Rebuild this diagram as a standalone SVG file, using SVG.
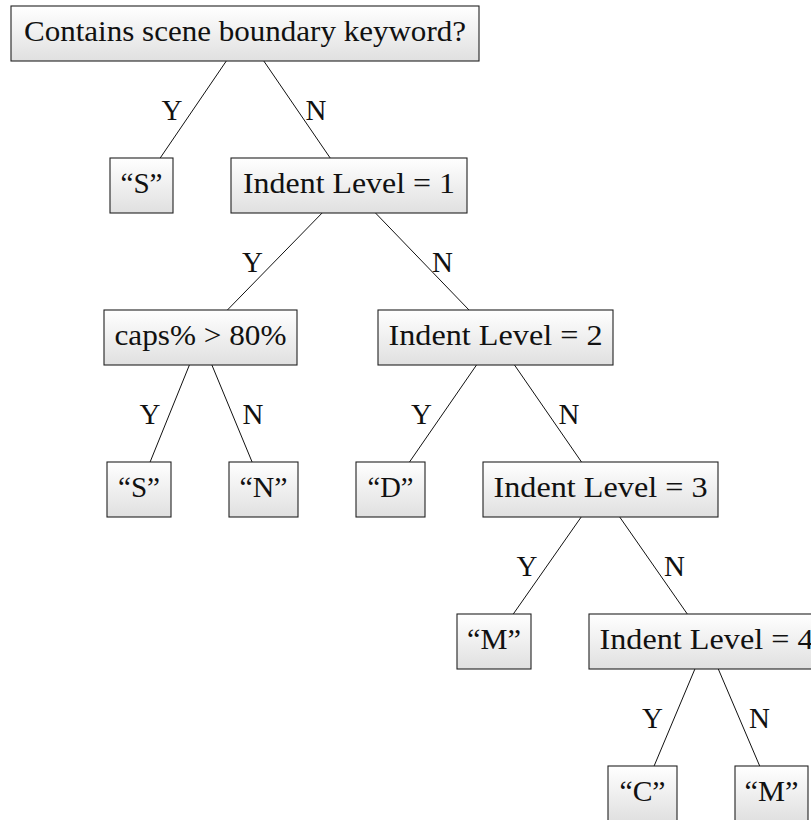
<svg xmlns="http://www.w3.org/2000/svg" width="811" height="820" viewBox="0 0 811 820">
<defs>
<linearGradient id="boxfill" x1="0" y1="0" x2="0" y2="1">
<stop offset="0" stop-color="#ffffff"/>
<stop offset="1" stop-color="#e0e0e0"/>
</linearGradient>
</defs>
<style>
.box{fill:url(#boxfill);stroke:#222;stroke-width:1.1}
.t{font-family:"Liberation Serif","DejaVu Serif",serif;font-size:29px;fill:#111;text-anchor:middle}
.edge{stroke:#111;stroke-width:1;fill:none}
.lbl{font-family:"Liberation Serif","DejaVu Serif",serif;font-size:29px;fill:#111;text-anchor:middle}
</style>
<rect x="0" y="0" width="811" height="820" fill="#ffffff"/>
<g id="connectors">
<line class="edge" x1="226.3" y1="61" x2="160.2" y2="158"/>
<line class="edge" x1="263.8" y1="61" x2="330.2" y2="158"/>
<line class="edge" x1="322.1" y1="213" x2="227.4" y2="310"/>
<line class="edge" x1="375.5" y1="213" x2="469" y2="310"/>
<line class="edge" x1="189.4" y1="365" x2="150.1" y2="462"/>
<line class="edge" x1="211.9" y1="365" x2="252.1" y2="462"/>
<line class="edge" x1="476.5" y1="365" x2="409.5" y2="462"/>
<line class="edge" x1="514.5" y1="365" x2="581.5" y2="462"/>
<line class="edge" x1="581.2" y1="517" x2="513.3" y2="614"/>
<line class="edge" x1="619.7" y1="517" x2="687.3" y2="614"/>
<line class="edge" x1="694.9" y1="669" x2="654.1" y2="766"/>
<line class="edge" x1="718.3" y1="669" x2="759.7" y2="766"/>
<text class="lbl" x="172" y="120">Y</text>
<text class="lbl" x="316" y="120">N</text>
<text class="lbl" x="252.5" y="272">Y</text>
<text class="lbl" x="442.5" y="272">N</text>
<text class="lbl" x="150" y="424">Y</text>
<text class="lbl" x="253" y="424">N</text>
<text class="lbl" x="421.5" y="424">Y</text>
<text class="lbl" x="569" y="424">N</text>
<text class="lbl" x="527" y="576">Y</text>
<text class="lbl" x="674.5" y="576">N</text>
<text class="lbl" x="652.5" y="728">Y</text>
<text class="lbl" x="759.5" y="728">N</text>
</g>
<g id="n-root">
<rect class="box" x="11" y="6" width="468" height="55"/>
<text class="t" x="245" y="40.5" textLength="442" lengthAdjust="spacingAndGlyphs">Contains scene boundary keyword?</text>
</g>
<g id="n-s1">
<rect class="box" x="110" y="158" width="63" height="55"/>
<text class="t" x="141.5" y="192.5" textLength="42" lengthAdjust="spacingAndGlyphs">“S”</text>
</g>
<g id="n-indent1">
<rect class="box" x="231" y="158" width="236" height="55"/>
<text class="t" x="349" y="192.5" textLength="212" lengthAdjust="spacingAndGlyphs">Indent Level = 1</text>
</g>
<g id="n-caps">
<rect class="box" x="104" y="310" width="193" height="55"/>
<text class="t" x="200.5" y="344.5" textLength="172" lengthAdjust="spacingAndGlyphs">caps% &gt; 80%</text>
</g>
<g id="n-indent2">
<rect class="box" x="378" y="310" width="235" height="55"/>
<text class="t" x="495.5" y="344.5" textLength="214" lengthAdjust="spacingAndGlyphs">Indent Level = 2</text>
</g>
<g id="n-s2">
<rect class="box" x="107" y="462" width="64" height="55"/>
<text class="t" x="139" y="496.5" textLength="42" lengthAdjust="spacingAndGlyphs">“S”</text>
</g>
<g id="n-n">
<rect class="box" x="229" y="462" width="69" height="55"/>
<text class="t" x="263.5" y="496.5" textLength="48" lengthAdjust="spacingAndGlyphs">“N”</text>
</g>
<g id="n-d">
<rect class="box" x="356" y="462" width="69" height="55"/>
<text class="t" x="390.5" y="496.5" textLength="46" lengthAdjust="spacingAndGlyphs">“D”</text>
</g>
<g id="n-indent3">
<rect class="box" x="483" y="462" width="235" height="55"/>
<text class="t" x="600.5" y="496.5" textLength="214" lengthAdjust="spacingAndGlyphs">Indent Level = 3</text>
</g>
<g id="n-m1">
<rect class="box" x="457" y="614" width="74" height="55"/>
<text class="t" x="494" y="648.5" textLength="54" lengthAdjust="spacingAndGlyphs">“M”</text>
</g>
<g id="n-indent4">
<rect class="box" x="589" y="614" width="235" height="55"/>
<text class="t" x="706.5" y="648.5" textLength="214" lengthAdjust="spacingAndGlyphs">Indent Level = 4</text>
</g>
<g id="n-c">
<rect class="box" x="608" y="766" width="69" height="55"/>
<text class="t" x="642.5" y="800.5" textLength="46" lengthAdjust="spacingAndGlyphs">“C”</text>
</g>
<g id="n-m2">
<rect class="box" x="735" y="766" width="73" height="55"/>
<text class="t" x="771.5" y="800.5" textLength="54" lengthAdjust="spacingAndGlyphs">“M”</text>
</g>
</svg>
